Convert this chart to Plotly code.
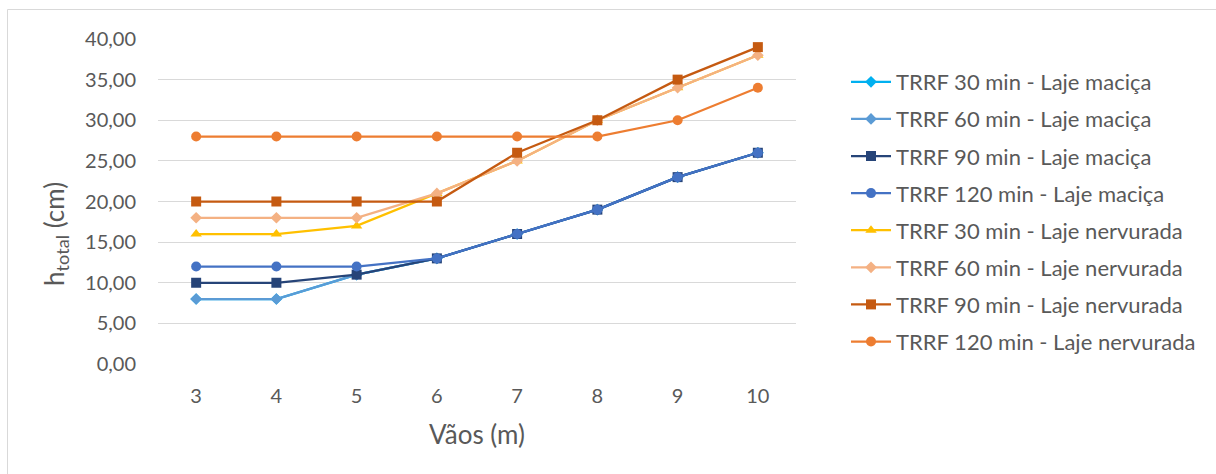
import plotly.graph_objects as go

# Span lengths (m)
vaos = ["3", "4", "5", "6", "7", "8", "9", "10"]

# Total slab height h_total (cm) per fire resistance time (TRRF)
macica_30 = [8, 8, 11, 13, 16, 19, 23, 26]
macica_60 = [8, 8, 11, 13, 16, 19, 23, 26]
macica_90 = [10, 10, 11, 13, 16, 19, 23, 26]
macica_120 = [12, 12, 12, 13, 16, 19, 23, 26]
nervurada_30 = [16, 16, 17, 21, 25, 30, 34, 38]
nervurada_60 = [18, 18, 18, 21, 25, 30, 34, 38]
nervurada_90 = [20, 20, 20, 20, 26, 30, 35, 39]
nervurada_120 = [28, 28, 28, 28, 28, 28, 30, 34]

y_ticks = [0, 5, 10, 15, 20, 25, 30, 35, 40]
y_tick_text = ["0,00", "5,00", "10,00", "15,00", "20,00", "25,00", "30,00", "35,00", "40,00"]

series = [
    ("TRRF 30 min - Laje maciça", macica_30, "#00B0F0", "diamond", 9),
    ("TRRF 60 min - Laje maciça", macica_60, "#5B9BD5", "diamond", 9),
    ("TRRF 90 min - Laje maciça", macica_90, "#264478", "square", 10),
    ("TRRF 120 min - Laje maciça", macica_120, "#4472C4", "circle", 10),
    ("TRRF 30 min - Laje nervurada", nervurada_30, "#FFC000", "triangle-up", 10),
    ("TRRF 60 min - Laje nervurada", nervurada_60, "#F4B183", "diamond", 9),
    ("TRRF 90 min - Laje nervurada", nervurada_90, "#C55A11", "square", 10),
    ("TRRF 120 min - Laje nervurada", nervurada_120, "#ED7D31", "circle", 10),
]

FONT = "Lato"
GREY = "#595959"

fig = go.Figure()
for i, (name, vals, color, symbol, size) in enumerate(series):
    fig.add_trace(go.Scatter(
        x=vaos, y=vals, name=name, mode="lines+markers",
        line=dict(color=color, width=2.25),
        marker=dict(symbol=symbol, size=size, color=color),
        legendgroup=f"g{i}",
    ))

W, H = 1216, 474
L, R, T, B = 158, 796, 39, 364
PW, PH = R - L, B - T

fig.update_layout(
    width=W, height=H,
    margin=dict(l=L, r=W - R, t=T, b=H - B),
    paper_bgcolor="white", plot_bgcolor="white",
    font=dict(family=FONT, color=GREY, size=20),
    showlegend=True,
    legend=dict(
        x=(846 - L) / PW, y=(B - 61) / PH,
        xanchor="left", yanchor="top",
        font=dict(family=FONT, size=22, color=GREY),
        tracegroupgap=5.5, bgcolor="rgba(0,0,0,0)",
        itemwidth=40, maxheight=460,
    ),
    xaxis=dict(
        type="category", showgrid=False, zeroline=False, showline=False,
        ticks="", tickfont=dict(size=20, color=GREY), ticklabelstandoff=18,
        title=dict(text="Vãos (m)", font=dict(size=26, color=GREY), standoff=19),
    ),
    yaxis=dict(
        range=[0, 40], tickvals=y_ticks, ticktext=y_tick_text,
        showgrid=True, gridcolor="#D9D9D9", gridwidth=1,
        zeroline=False, showline=False, ticks="", ticklabelstandoff=21,
        tickfont=dict(size=20, color=GREY),
    ),
    annotations=[dict(
        text="h<sub>total</sub> (cm)", textangle=-90, showarrow=False,
        xref="paper", yref="paper",
        x=(55 - L) / PW, y=(B - 234) / PH, xanchor="center", yanchor="middle",
        font=dict(family=FONT, size=26, color=GREY),
    )],
    shapes=[dict(
        type="rect", xref="paper", yref="paper",
        x0=(7.5 - L) / PW, x1=(W + 20 - L) / PW,
        y0=-(H + 20 - B) / PH, y1=(B - 9.5) / PH,
        line=dict(color="#D9D9D9", width=1), fillcolor="rgba(0,0,0,0)", layer="below",
    )],
)

fig.write_html("out.html")
